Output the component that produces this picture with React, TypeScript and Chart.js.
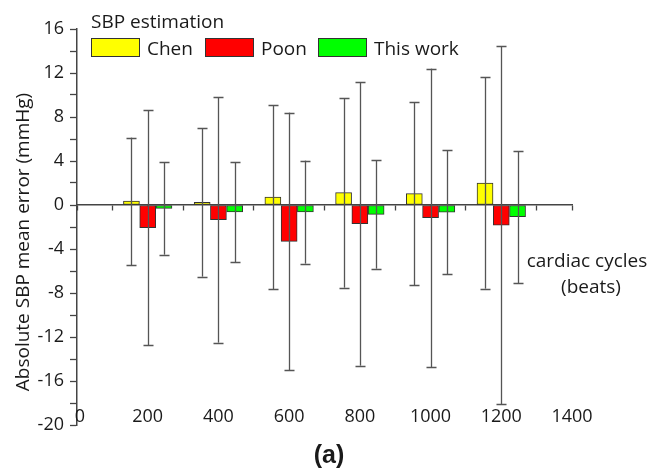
import React, { useEffect, useRef } from 'react';
import { Chart, registerables } from 'chart.js';

Chart.register(...registerables);

// ---- data ----
const cycles = [200, 400, 600, 800, 1000, 1200];
const seriesNames = ['Chen', 'Poon', 'This work'];
const chenMean = [0.35, 0.25, 0.72, 1.13, 1.03, 2.0];
const chenSD = [5.78, 6.75, 8.33, 8.63, 8.33, 9.6];
const poonMean = [-2.05, -1.33, -3.3, -1.7, -1.15, -1.83];
const poonSD = [10.65, 11.18, 11.7, 12.9, 13.55, 16.28];
const workMean = [-0.3, -0.63, -0.64, -0.85, -0.65, -1.06];
const workSD = [4.2, 4.57, 4.68, 4.93, 5.65, 6.0];
const xTickLabels = [0, 200, 400, 600, 800, 1000, 1200, 1400];
const yMin = -20;
const yMax = 16;
const xMin = 0;
const xMax = 1400;

const colors = ['#ffff00', '#ff0000', '#00ff00'];
const GROUP_OFFSET = 46; // x units between adjacent bars within a group
const FONT = "'Open Sans', 'Noto Sans', sans-serif";
const TEXT = '#1a1a1a';
const AXIS = '#444444';

const means = [chenMean, poonMean, workMean];
const sds = [chenSD, poonSD, workSD];

const errorBarPlugin = {
  id: 'errorBars',
  afterDatasetsDraw(chart: any) {
    const ctx = chart.ctx;
    const ys = chart.scales.y;
    ctx.save();
    ctx.strokeStyle = '#555555';
    ctx.lineWidth = 1.3;
    chart.data.datasets.forEach((ds: any, di: number) => {
      const meta = chart.getDatasetMeta(di);
      meta.data.forEach((el: any, i: number) => {
        const m = means[di][i];
        const s = sds[di][i];
        const top = ys.getPixelForValue(m + s);
        const bot = ys.getPixelForValue(m - s);
        const x = Math.round(el.x) + 0.5;
        ctx.beginPath();
        ctx.moveTo(x, top);
        ctx.lineTo(x, bot);
        ctx.moveTo(x - 5, Math.round(top) + 0.5);
        ctx.lineTo(x + 5, Math.round(top) + 0.5);
        ctx.moveTo(x - 5, Math.round(bot) + 0.5);
        ctx.lineTo(x + 5, Math.round(bot) + 0.5);
        ctx.stroke();
      });
    });
    ctx.restore();
  },
};

const annotationPlugin = {
  id: 'annotations',
  afterDraw(chart: any) {
    const ctx = chart.ctx;
    const xs = chart.scales.x;
    ctx.save();
    ctx.fillStyle = TEXT;
    // x tick labels
    ctx.font = `18px ${FONT}`;
    ctx.textAlign = 'center';
    ctx.textBaseline = 'middle';
    xTickLabels.forEach((v) => {
      ctx.fillText(String(v), xs.getPixelForValue(v) + (v === 0 ? 3 : 0), 417);
    });
    // legend title
    ctx.font = `19px ${FONT}`;
    ctx.textAlign = 'left';
    ctx.textBaseline = 'alphabetic';
    ctx.fillText('SBP estimation', 91, 28);
    // legend items
    const boxX = [91, 205, 318];
    seriesNames.forEach((name, i) => {
      ctx.fillStyle = colors[i];
      ctx.fillRect(boxX[i], 38, 49, 19);
      ctx.strokeStyle = '#333333';
      ctx.lineWidth = 1;
      ctx.strokeRect(boxX[i] + 0.5, 38.5, 48, 18);
      ctx.fillStyle = TEXT;
      ctx.fillText(name, boxX[i] + 56, 55);
    });
    // x axis title
    ctx.font = `19px ${FONT}`;
    ctx.textAlign = 'center';
    ctx.fillText('cardiac cycles', 587, 267);
    ctx.fillText('(beats)', 591, 293);
    // y axis title
    ctx.save();
    ctx.translate(29, 242);
    ctx.rotate(-Math.PI / 2);
    ctx.textBaseline = 'alphabetic';
    ctx.fillText('Absolute SBP mean error (mmHg)', 0, 0);
    ctx.restore();
    // caption
    ctx.font = `bold 25px 'Liberation Sans', Arial, sans-serif`;
    ctx.textAlign = 'center';
    ctx.textBaseline = 'middle';
    ctx.fillText('(a)', 329, 456);
    ctx.restore();
  },
};

export default function App() {
  const ref = useRef<HTMLCanvasElement | null>(null);
  useEffect(() => {
    if (!ref.current) return;
    const datasets = seriesNames.map((name, di) => ({
      label: name,
      data: cycles.map((c, i) => ({ x: c + (di - 1) * GROUP_OFFSET, y: means[di][i] })),
      backgroundColor: colors[di],
      borderColor: '#333333',
      borderWidth: 1,
      borderSkipped: false as const,
      barThickness: 16,
      grouped: false,
    }));
    const chart = new Chart(ref.current, {
      type: 'bar',
      data: { datasets },
      plugins: [errorBarPlugin, annotationPlugin],
      options: {
        animation: false,
        responsive: false,
        layout: { padding: { left: 0, right: 77, top: 29, bottom: 45 } },
        plugins: { legend: { display: false }, tooltip: { enabled: false } },
        scales: {
          x: {
            type: 'linear',
            position: { y: 0 } as any,
            offset: false,
            min: xMin,
            max: xMax,
            ticks: { display: false, stepSize: 100 },
            grid: { drawOnChartArea: false, drawTicks: true, tickLength: 5, tickColor: AXIS, tickWidth: 1.3, offset: false },
            border: { display: true, color: AXIS, width: 1.5 },
            afterFit: (s: any) => { s.height = 0; },
          },
          y: {
            type: 'linear',
            position: 'left',
            min: yMin,
            max: yMax,
            ticks: {
              stepSize: 2,
              autoSkip: false,
              color: TEXT,
              font: { family: FONT, size: 18 },
              padding: 6,
              callback: (v: any) => (Number(v) % 4 === 0 ? String(v) : ''),
            },
            grid: { drawOnChartArea: false, drawTicks: true, tickLength: 7, tickColor: AXIS, tickWidth: 1.3 },
            border: { display: true, color: AXIS, width: 1.5 },
            afterFit: (s: any) => { s.width = 77; },
          },
        },
      },
    });
    return () => chart.destroy();
  }, []);
  return (
    <div style={{ position: 'absolute', left: 0, top: 0, width: 649, height: 470, background: '#fff' }}>
      <canvas ref={ref} width={649} height={470} />
    </div>
  );
}
